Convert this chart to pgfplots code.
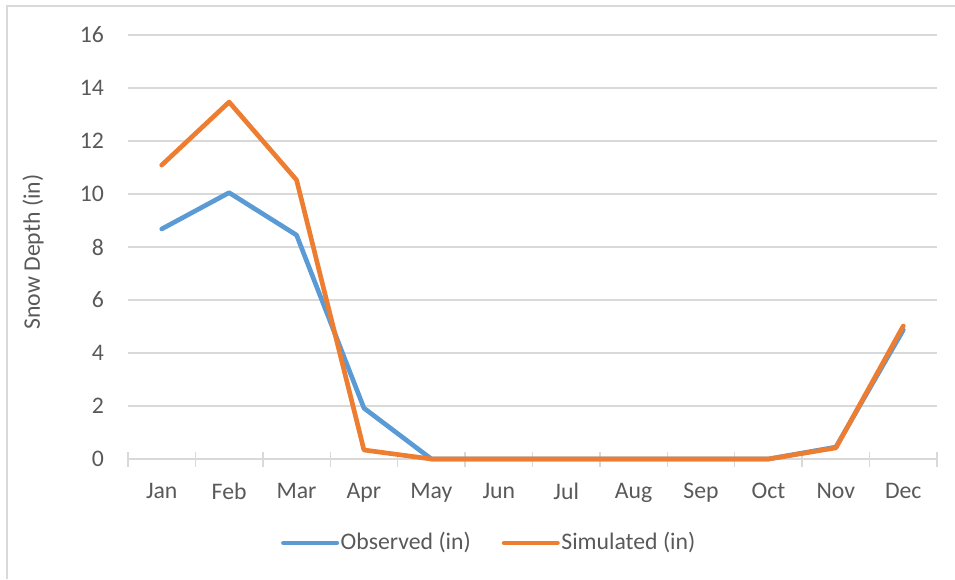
\documentclass[border=0pt]{standalone}
\usepackage{pgfplots}
\pgfplotsset{compat=1.18}
\usepackage{fontspec}
\setmainfont{Carlito}
\definecolor{obs}{HTML}{5B9BD5}
\definecolor{sim}{HTML}{ED7D31}
\definecolor{txt}{HTML}{595959}
\definecolor{grd}{HTML}{D9D9D9}
\newcommand{\chartfont}{\fontsize{17.8pt}{21pt}\selectfont}
\begin{document}
\chartfont
\begin{tikzpicture}
\useasboundingbox (0,0) rectangle (716.25pt,434.25pt);
\draw[grd, line width=1pt] (5.25pt,0pt) -- (5.25pt,429.75pt) -- (716.25pt,429.75pt);
\begin{axis}[
  at={(96pt,90pt)}, anchor=south west,
  scale only axis, width=606.75pt, height=318pt,
  xmin=-0.5, xmax=11.5, ymin=0, ymax=16,
  xtick={0,...,11},
  xticklabels={Jan,Feb,Mar,Apr,May,Jun,Jul,Aug,Sep,Oct,Nov,Dec},
  minor xtick={-0.5,0.5,...,11.5},
  ytick={0,2,...,16},
  major tick length=0pt,
  minor tick length=11.25pt,
  tick align=center,
  axis x line*=bottom,
  axis y line*=left,
  x axis line style={grd, line width=1.1pt, -},
  y axis line style={draw=none},
  minor tick style={grd, line width=1.1pt},
  ymajorgrids,
  major grid style={grd, line width=1.1pt},
  /pgf/number format/assume math mode=true,
  tick label style={font=\chartfont, text=txt},
  xticklabel style={yshift=-12pt},
  yticklabel style={xshift=-12pt},
  ylabel={Snow Depth (in)},
  ylabel style={at={(axis description cs:-0.1174,0.488)}, rotate=0, anchor=center, text=txt, font=\chartfont},
  legend style={at={(axis description cs:0.184,-0.198)}, anchor=west, draw=none, fill=none,
    legend columns=2, font=\chartfont, text=txt,
    nodes={inner sep=1.2pt},
    /tikz/every even column/.append style={column sep=22pt}},
  legend image code/.code={\draw[#1, line cap=round, line width=3.5pt] (0pt,0pt) -- (40pt,0pt);},
  clip=false,
]
\addplot[obs, line width=3.5pt, line join=round, line cap=round] coordinates {
(0,8.68) (1,10.05) (2,8.45) (3,1.92) (4,0) (5,0) (6,0) (7,0) (8,0) (9,0) (10,0.45) (11,4.87)};
\addlegendentry{Observed (in)}
\addplot[sim, line width=3.5pt, line join=round, line cap=round] coordinates {
(0,11.09) (1,13.47) (2,10.53) (3,0.34) (4,0) (5,0) (6,0) (7,0) (8,0) (9,0) (10,0.42) (11,5.02)};
\addlegendentry{Simulated (in)}
\end{axis}
\end{tikzpicture}
\end{document}
